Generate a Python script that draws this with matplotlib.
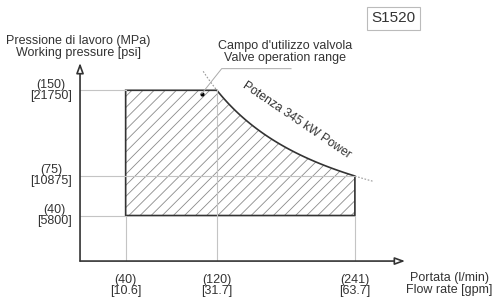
import numpy as np
import matplotlib
matplotlib.use('Agg')
import matplotlib.pyplot as plt
from matplotlib.patches import Polygon

plt.rcParams['font.family'] = ['Liberation Sans', 'DejaVu Sans']
plt.rcParams['hatch.linewidth'] = 0.6

# operating envelope (flow l/min, pressure MPa)
q_min, q_knee, q_max = 40, 120, 241
p_min, p_mid, p_max = 40, 75, 150
x_labels = ["(40)\n[10.6]", "(120)\n[31.7]", "(241)\n[63.7]"]
y_labels = ["(150)\n[21750]", "(75)\n[10875]", "(40)\n[5800]"]
x_ticks = [40, 120, 241]
y_ticks = [150, 75, 40]
power_const = p_max * q_knee  # p * Q along the constant power line

GRID = '#c4c4c4'
INK = '#333333'
FS = 9

fig = plt.figure(figsize=(4.94, 2.97), dpi=100)
ax = fig.add_axes([0.162, 0.121, 0.658, 0.667])
ax.set_xlim(0, 285)
ax.set_ylim(0, 174)
ax.axis('off')

# guide lines
ax.plot([q_min, q_min], [0, p_min], color=GRID, lw=0.8)
ax.plot([q_knee, q_knee], [0, p_max], color=GRID, lw=0.8)
ax.plot([q_max, q_max], [0, p_min], color=GRID, lw=0.8)
ax.plot([0, q_min], [p_max, p_max], color=GRID, lw=0.8)
ax.plot([0, q_max], [p_mid, p_mid], color=GRID, lw=0.8)
ax.plot([0, q_min], [p_min, p_min], color=GRID, lw=0.8)

# envelope
qc = np.linspace(q_knee, q_max, 60)
pc = power_const / qc
xs = np.concatenate([[q_min, q_min], qc, [q_max]])
ys = np.concatenate([[p_min, p_max], pc, [p_min]])
pts = np.column_stack([xs, ys])
ax.add_patch(Polygon(pts, closed=True, fill=False, hatch='///',
                     edgecolor='#8a8a8a', lw=0))
ax.add_patch(Polygon(pts, closed=True, fill=False, edgecolor=INK, lw=1.2))

# dotted extensions of the power curve
for a, b in [(108, q_knee), (q_max, 257)]:
    qe = np.linspace(a, b, 20)
    ax.plot(qe, power_const / qe, color='#999999', lw=0.8, ls=(0, (1.5, 1.5)))

# axes with open arrow heads
arrow = dict(arrowstyle='-|>,head_length=0.6,head_width=0.22', color=INK,
             lw=1.2, fc='white', shrinkA=0, shrinkB=0)
ax.annotate('', xy=(285, 0), xytext=(0, 0), arrowprops=arrow, annotation_clip=False)
ax.annotate('', xy=(0, 174), xytext=(0, 0), arrowprops=arrow, annotation_clip=False)

# tick labels
for x, lab in zip(x_ticks, x_labels):
    ax.text(x, -11, lab, ha='center', va='top', fontsize=FS, color=INK,
            linespacing=0.92, multialignment='center')
for y, lab in zip(y_ticks, y_labels):
    ax.text(-7, y, lab, ha='right', va='center', fontsize=FS, color=INK,
            linespacing=0.92, multialignment='center')

# axis titles
fig.text(78 / 494, 1 - 47 / 297, "Pressione di lavoro (MPa)\nWorking pressure [psi]",
         ha='center', va='center', fontsize=FS, color=INK, linespacing=0.92)
fig.text(449 / 494, 1 - 284 / 297, "Portata (l/min)\nFlow rate [gpm]",
         ha='center', va='center', fontsize=FS, color=INK, linespacing=0.92)

# annotation for the usable range
ax.plot([106.7], [147], 'o', color='black', ms=2)
ax.plot([106.7, 124.2, 185], [147, 169, 169], color='#aaaaaa', lw=0.7, clip_on=False)
fig.text(285 / 494, 1 - 52 / 297, "Campo d'utilizzo valvola\nValve operation range",
         ha='center', va='center', fontsize=FS, color=INK, linespacing=0.92)

# power curve label
ax.text(190, 124, "Potenza 345 kW Power", rotation=-34, ha='center', va='center',
        fontsize=8.8, color=INK, rotation_mode='anchor')

# model box
fig.text(393.5 / 494, 1 - 18.5 / 297, "S1520", ha='center', va='center', fontsize=11,
         color=INK, bbox=dict(boxstyle='square,pad=0.3', fc='white', ec='#bbbbbb', lw=0.8))

fig.savefig('out.png', dpi=100)
